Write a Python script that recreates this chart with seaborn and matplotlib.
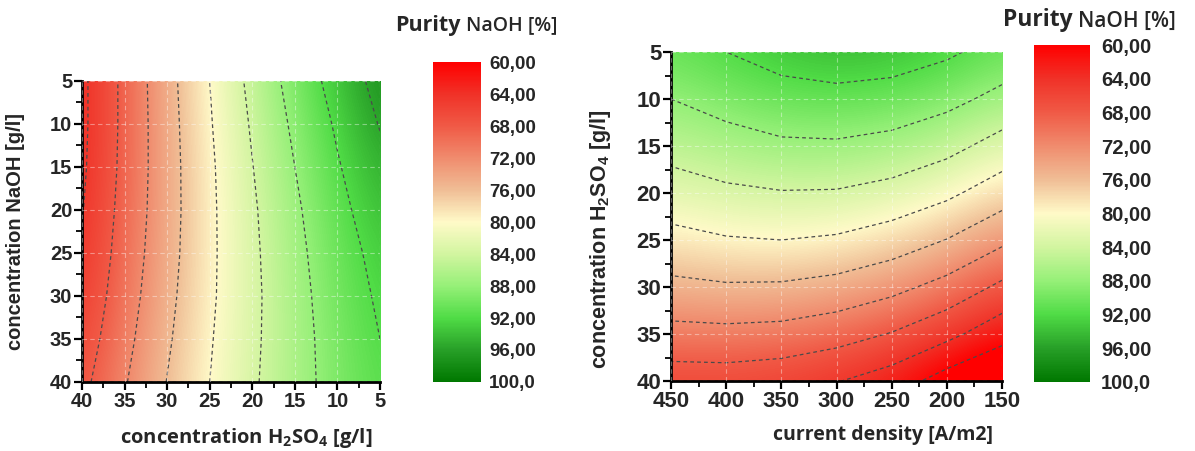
import numpy as np
import seaborn as sns
import matplotlib
matplotlib.use("Agg")
import matplotlib.pyplot as plt
from matplotlib.colors import Normalize
from matplotlib.cm import ScalarMappable
from matplotlib.ticker import MultipleLocator

# left panel: purity vs H2SO4 (x) and NaOH (y) concentration
h2so4_left = [40, 35, 30, 25, 20, 15, 10, 5]
naoh_left = [5, 10, 15, 20, 25, 30, 35, 40]
purity_left = [
    [63.2, 68.9, 74.7, 80.0, 85.0, 89.5, 93.5, 97.3],
    [63.2, 68.9, 74.5, 79.7, 84.4, 88.7, 92.5, 96.2],
    [63.4, 69.0, 74.4, 79.4, 83.9, 88.0, 91.7, 95.0],
    [63.8, 69.3, 74.4, 79.3, 83.5, 87.4, 91.0, 94.0],
    [64.3, 69.7, 74.6, 79.3, 83.3, 87.0, 90.4, 93.1],
    [65.0, 70.2, 75.0, 79.4, 83.2, 86.7, 90.0, 92.5],
    [65.9, 70.9, 75.5, 79.7, 83.3, 86.6, 89.6, 92.0],
    [67.0, 71.7, 76.1, 80.0, 83.5, 86.6, 89.4, 91.5],
]
levels_left = [64, 68, 72, 76, 80, 84, 88, 92, 96]

# right panel: purity vs current density (x) and H2SO4 concentration (y)
current = [450, 400, 350, 300, 250, 200, 150]
h2so4_right = [5, 10, 15, 20, 25, 30, 35, 40]
purity_right = [
    [90.5, 92.0, 93.5, 94.2, 93.9, 92.6, 90.5],
    [88.0, 89.4, 90.5, 90.9, 90.4, 89.1, 86.9],
    [85.3, 86.5, 87.4, 87.5, 86.8, 85.2, 82.5],
    [82.3, 83.3, 83.8, 83.7, 82.7, 80.8, 77.9],
    [78.8, 79.7, 80.0, 79.5, 78.1, 75.9, 72.8],
    [75.1, 75.6, 75.5, 74.7, 73.1, 70.7, 67.2],
    [70.8, 71.0, 70.7, 69.6, 67.8, 65.1, 61.5],
    [66.0, 66.1, 65.5, 64.2, 62.1, 58.2, 55.5],
]
levels_right = [60, 64, 68, 72, 76, 80, 84, 88, 92]

bar_ticks = [60, 64, 68, 72, 76, 80, 84, 88, 92, 96, 100]
bar_labels = ["60,00", "64,00", "68,00", "72,00", "76,00", "80,00",
              "84,00", "88,00", "92,00", "96,00", "100,0"]
bar_colors = ["#ff0000", "#f03228", "#f05a46", "#f08c6e", "#f0be96", "#fffac8",
              "#d2f5a0", "#96f078", "#50dc46", "#28a028", "#007800"]

sns.set_theme(style="ticks")
plt.rcParams["font.family"] = ["Liberation Sans", "DejaVu Sans"]
plt.rcParams["mathtext.default"] = "regular"
label_font = ["Open Sans", "DejaVu Sans"]

cmap = sns.blend_palette(bar_colors, n_colors=256, as_cmap=True)
norm = Normalize(vmin=60, vmax=100)

fig = plt.figure(figsize=(11.95, 4.51), dpi=100)
ax1 = fig.add_axes([0.0686, 0.153, 0.2494, 0.6674])
cax1 = fig.add_axes([0.3623, 0.153, 0.0402, 0.7095])
ax2 = fig.add_axes([0.5615, 0.1552, 0.277, 0.7295])
cax2 = fig.add_axes([0.8653, 0.153, 0.0469, 0.7472])


def draw_panel(ax, xs, ys, z, levels, xminor, ticksize):
    z = np.array(z)
    sx = xs[1] - xs[0]
    sy = ys[1] - ys[0]
    ax.imshow(z, cmap=cmap, norm=norm, origin="upper", aspect="auto",
              interpolation="bicubic", interpolation_stage="data",
              extent=(xs[0] - sx / 2, xs[-1] + sx / 2, ys[-1] + sy / 2, ys[0] - sy / 2))
    ax.contour(xs, ys, z, levels=levels, colors="#4a4a4a", linewidths=0.9,
               linestyles=[(0, (3, 2.5))])
    ax.set_xlim(xs[0], xs[-1])
    ax.set_ylim(ys[-1], ys[0])
    ax.set_xticks(xs)
    ax.set_yticks(ys)
    ax.xaxis.set_minor_locator(MultipleLocator(xminor))
    ax.yaxis.set_minor_locator(MultipleLocator(2.5))
    ax.grid(True, color="white", linestyle=(0, (4, 3)), linewidth=0.8, alpha=0.4)
    ax.set_axisbelow(False)
    ax.tick_params(which="major", direction="out", length=6, width=1.6,
                   labelsize=ticksize, pad=1, color="black")
    ax.tick_params(which="minor", direction="out", length=4, width=1.3, color="black")
    for lbl in ax.get_xticklabels() + ax.get_yticklabels():
        lbl.set_fontweight("bold")
    for side in ["top", "right"]:
        ax.spines[side].set_visible(False)
    for side in ["left", "bottom"]:
        ax.spines[side].set_linewidth(2)
        ax.spines[side].set_color("black")


def draw_colorbar(cax, labelsize, pad):
    cb = fig.colorbar(ScalarMappable(norm=norm, cmap=cmap), cax=cax)
    cb.set_ticks(bar_ticks)
    cb.set_ticklabels(bar_labels)
    cb.outline.set_visible(False)
    cax.invert_yaxis()
    cax.tick_params(length=0, labelsize=labelsize, pad=pad)
    for lbl in cax.get_yticklabels():
        lbl.set_fontweight("bold")


draw_panel(ax1, h2so4_left, naoh_left, purity_left, levels_left, 2.5, 14.5)
draw_panel(ax2, current, h2so4_right, purity_right, levels_right, 25, 16)
draw_colorbar(cax1, 13.5, 6)
draw_colorbar(cax2, 14.5, 8)

ax1.set_ylabel("concentration NaOH [g/l]", fontsize=14.5, fontweight="bold")
ax1.yaxis.set_label_coords(-0.19, 0.5)
ax1.set_xlabel("concentration H$_2$SO$_4$ [g/l]", fontsize=14.5, fontweight="bold",
               family=label_font)
ax1.xaxis.set_label_coords(0.55, -0.145)

ax2.set_ylabel("concentration H$_2$SO$_4$ [g/l]", fontsize=15.5, fontweight="bold")
ax2.yaxis.set_label_coords(-0.175, 0.43)
ax2.set_xlabel("current density [A/m2]", fontsize=14, fontweight="bold",
               family=label_font)
ax2.xaxis.set_label_coords(0.64, -0.135)

for x0, y0, s1, s2 in [(395, 25, 15.5, 14), (1003, 20, 16.5, 15)]:
    t = fig.text(x0 / 1195, 1 - y0 / 451, "Purity", fontsize=s1, fontweight="bold",
                 family=label_font, ha="left", va="center")
    ax1.annotate("NaOH [%]", xy=(1, 0), xycoords=t, xytext=(4, 0),
                 textcoords="offset points", fontsize=s2, va="bottom",
                 fontweight="semibold", family=label_font, annotation_clip=False)

fig.savefig("out.png", dpi=100, facecolor="white")
